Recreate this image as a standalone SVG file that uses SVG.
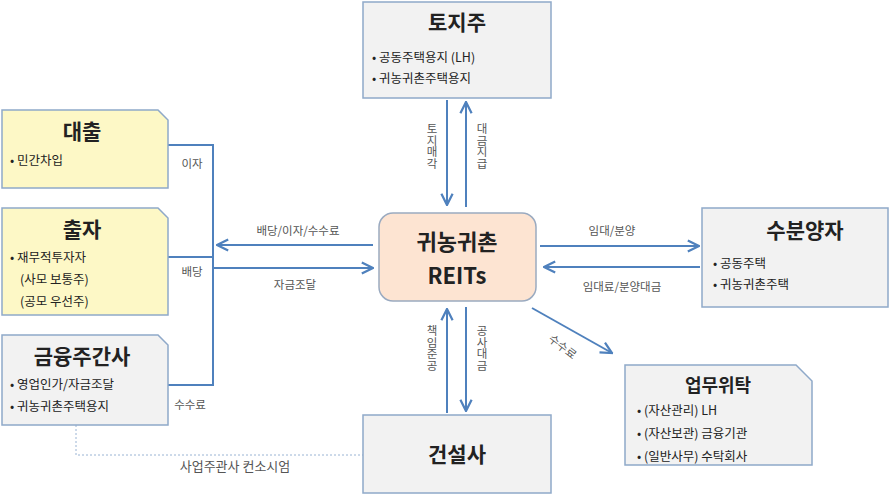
<svg xmlns="http://www.w3.org/2000/svg" width="890" height="495" viewBox="0 0 890 495">
<style>
text{font-family:"Noto Sans CJK KR","Noto Sans",sans-serif;fill:#222}
.t{font-size:21px;font-weight:bold;text-anchor:middle}
.b{font-size:12.5px}
.l{font-size:11.5px;fill:#555}
.v{font-size:11.5px;fill:#555;writing-mode:tb;glyph-orientation-vertical:0}
.box{stroke:#8fa9c9;stroke-width:1.5}
.g{fill:#f2f2f2}
.y{fill:#fdf8c6}
.ln{stroke:#4f81bd;stroke-width:2;fill:none}
</style>
<defs><marker id="a" viewBox="0 0 10 10" refX="9" refY="5" markerWidth="7" markerHeight="7" orient="auto"><path d="M1,1 L9,5 L1,9" fill="none" stroke="#4f81bd" stroke-width="1.6"/></marker></defs>
<rect width="890" height="495" fill="#fff"/>
<g id="connectors">
<path class="ln" d="M168,145 H213 V385 H168 M168,257 H213"/>
<path class="ln" d="M373,245 H217" marker-end="url(#a)"/>
<path class="ln" d="M213,268 H373" marker-end="url(#a)"/>
<path class="ln" d="M447,100 V205" marker-end="url(#a)"/>
<path class="ln" d="M466,207 V102" marker-end="url(#a)"/>
<path class="ln" d="M447,413 V309" marker-end="url(#a)"/>
<path class="ln" d="M466,307 V411" marker-end="url(#a)"/>
<path class="ln" d="M540,246 H699" marker-end="url(#a)"/>
<path class="ln" d="M700,267 H544" marker-end="url(#a)"/>
<path class="ln" d="M532,308 L612,353" marker-end="url(#a)"/>
<path d="M76,425 V455 H363" fill="none" stroke="#9ab4d4" stroke-width="1" stroke-dasharray="2,2"/>
<text class="l" x="192" y="168" text-anchor="middle">이자</text>
<text class="l" x="192" y="276" text-anchor="middle">배당</text>
<text class="l" x="190" y="409" text-anchor="middle">수수료</text>
<text class="l" x="298" y="235" text-anchor="middle">배당/이자/수수료</text>
<text class="l" x="295" y="289" text-anchor="middle">자금조달</text>
<text class="l" x="612" y="235" text-anchor="middle">임대/분양</text>
<text class="l" x="622" y="291" text-anchor="middle">임대료/분양대금</text>
<text class="l" x="235" y="471" text-anchor="middle" style="font-size:13px">사업주관사 컨소시엄</text>
<text class="l" transform="translate(560,350) rotate(38)" text-anchor="middle">수수료</text>
<text class="v" x="432" y="123">토지매각</text>
<text class="v" x="482" y="123">대금지급</text>
<text class="v" x="432" y="325">책임준공</text>
<text class="v" x="482" y="325">공사대금</text>
</g>
<g id="toji"><rect class="box g" x="363" y="2" width="188" height="96"/>
<text class="t" x="457" y="30">토지주</text>
<text class="b" x="372" y="62">• 공동주택용지 (LH)</text>
<text class="b" x="372" y="83">• 귀농귀촌주택용지</text></g>
<g id="reits"><rect x="379" y="213" width="157" height="88" rx="14" fill="#fde4d2" stroke="#9aaac0" stroke-width="1.5"/>
<text class="t" x="457" y="250" style="font-size:22px">귀농귀촌</text>
<text class="t" x="457" y="284" style="font-size:22px">REITs</text></g>
<g id="subun"><rect class="box g" x="702" y="208" width="186" height="99"/>
<text class="t" x="805" y="238">수분양자</text>
<text class="b" x="713" y="268">• 공동주택</text>
<text class="b" x="713" y="289">• 귀농귀촌주택</text></g>
<g id="upmu"><path class="box g" d="M625,365 H796 L812,381 V465 H625 Z"/>
<text class="t" x="718" y="392" style="font-size:18px">업무위탁</text>
<text class="b" x="637" y="415">• (자산관리) LH</text>
<text class="b" x="637" y="438">• (자산보관) 금융기관</text>
<text class="b" x="637" y="461">• (일반사무) 수탁회사</text></g>
<g id="geonseol"><rect class="box g" x="363" y="415" width="188" height="78"/>
<text class="t" x="457" y="462">건설사</text></g>
<g id="daechul"><path class="box y" d="M2,110 H158 L168,120 V188 H2 Z"/>
<text class="t" x="82" y="139">대출</text>
<text class="b" x="10" y="165">• 민간차입</text></g>
<g id="chulja"><path class="box y" d="M2,208 H158 L168,218 V315 H2 Z"/>
<text class="t" x="82" y="237">출자</text>
<text class="b" x="10" y="262">• 재무적투자자</text>
<text class="b" x="20" y="284">(사모 보통주)</text>
<text class="b" x="20" y="306">(공모 우선주)</text></g>
<g id="geumyung"><path class="box g" d="M2,335 H158 L168,345 V425 H2 Z"/>
<text class="t" x="82" y="364">금융주간사</text>
<text class="b" x="10" y="389">• 영업인가/자금조달</text>
<text class="b" x="10" y="411">• 귀농귀촌주택용지</text></g>
</svg>
